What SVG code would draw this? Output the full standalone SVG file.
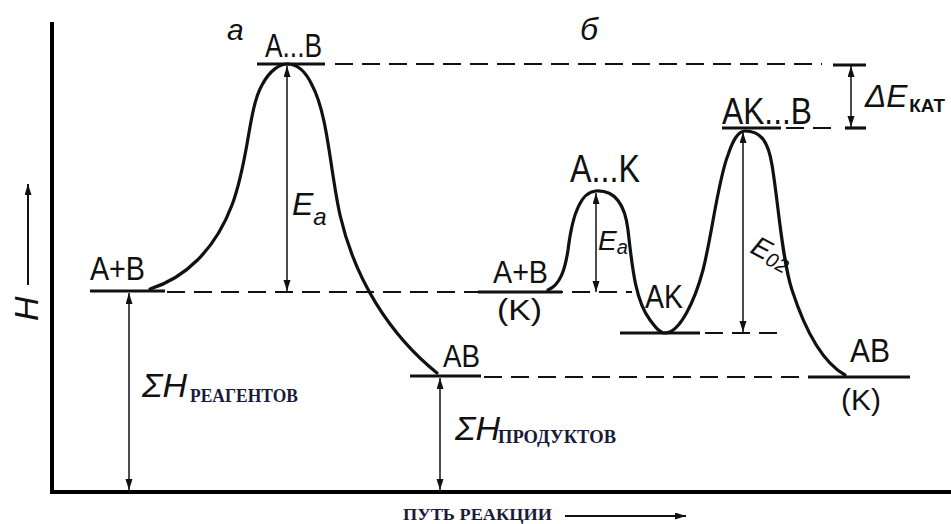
<svg xmlns="http://www.w3.org/2000/svg" width="951" height="524" viewBox="0 0 951 524">
<style>
.ax{stroke:#000;stroke-width:4;fill:none}
.crv{stroke:#111;stroke-width:3.2;fill:none;stroke-linecap:round}
.lvl{stroke:#111;stroke-width:3.2;fill:none}
.dash{stroke:#111;stroke-width:2;fill:none;stroke-dasharray:18 9}
.arr{stroke:#111;stroke-width:1.5;fill:none;marker-start:url(#ah);marker-end:url(#ah)}
.lbl{font-family:"Liberation Sans",Arial,sans-serif;fill:#111}
.it{font-family:"Liberation Sans",Arial,sans-serif;font-style:italic;fill:#111}
.ser{font-family:"Liberation Serif","Times New Roman",serif;font-weight:bold;fill:#1a1a3a}
</style>
<defs>
<marker id="ah" markerUnits="userSpaceOnUse" markerWidth="12" markerHeight="8" refX="11" refY="3.5" orient="auto-start-reverse">
<path d="M0,0 L11,3.5 L0,7 z" fill="#111"/>
</marker>
</defs>
<rect width="951" height="524" fill="#fff"/>
<g id="axes">
<line class="ax" x1="52" y1="22" x2="52" y2="493"/>
<line class="ax" x1="50" y1="492" x2="951" y2="492"/>
<line x1="28" y1="285" x2="28" y2="184" stroke="#111" stroke-width="2" marker-end="url(#ah)"/>
<text class="it" font-size="34" transform="translate(38,321) rotate(-90)">H</text>
<text class="ser" x="403" y="520" font-size="17" textLength="149" lengthAdjust="spacingAndGlyphs">ПУТЬ РЕАКЦИИ</text>
<line x1="565" y1="516" x2="686" y2="516" stroke="#111" stroke-width="2" marker-end="url(#ah)"/>
</g>
<g id="levels">
<line class="lvl" x1="90" y1="291" x2="165" y2="291"/>
<line class="dash" x1="167" y1="292" x2="632" y2="292"/>
<line class="lvl" x1="257" y1="64" x2="325" y2="64"/>
<line class="dash" x1="335" y1="64" x2="822" y2="64"/>
<line class="lvl" x1="833" y1="65" x2="866" y2="65"/>
<line class="lvl" x1="410" y1="376" x2="481" y2="376"/>
<line class="dash" x1="484" y1="377" x2="808" y2="377"/>
<line class="lvl" x1="808" y1="377" x2="910" y2="377"/>
<line class="lvl" x1="478" y1="292" x2="562" y2="292"/>
<line class="lvl" x1="620" y1="333" x2="700" y2="333"/>
<line class="dash" x1="705" y1="333" x2="782" y2="333"/>
<line class="lvl" x1="722" y1="128" x2="781" y2="128"/>
<line class="dash" x1="786" y1="128" x2="836" y2="128"/>
<line class="lvl" x1="845" y1="128" x2="866" y2="128"/>
</g>
<g id="connectors">
<path id="curve-a" class="crv" d="M150,289 C185,278 215,250 232,205 C249,160 248,110 262,85 C270,70 280,64 287,64 C296,64 305,70 312,85 C328,115 330,170 340,215 C355,280 390,335 437,373"/>
<path id="curve-b" class="crv" d="M548,290 C560,285 565,270 568,250 C571,225 578,192 596,191 C615,190 625,205 628,230 C632,265 635,300 650,320 C656,328 660,333 665,333 C680,333 695,300 703,270 C712,235 718,180 728,155 C733,140 738,131 745,131 C760,131 768,140 772,165 C778,200 782,260 792,290 C805,330 822,362 845,375"/>
<line class="arr" x1="287" y1="66" x2="287" y2="291"/>
<line class="arr" x1="129" y1="293" x2="129" y2="490"/>
<line class="arr" x1="440" y1="378" x2="440" y2="490"/>
<line class="arr" x1="596" y1="193" x2="596" y2="292"/>
<line class="arr" x1="743" y1="132" x2="743" y2="332"/>
<line class="arr" x1="851" y1="66" x2="851" y2="127"/>
</g>
<g id="node-a-label"><text class="it" x="227" y="40" font-size="30">а</text></g>
<g id="node-b-label"><text class="it" x="580" y="40" font-size="32">б</text></g>
<g id="node-AB-peak"><text class="lbl" x="265" y="57" font-size="34" textLength="57" lengthAdjust="spacingAndGlyphs">A...B</text></g>
<g id="node-A+B"><text class="lbl" x="90" y="280" font-size="34" textLength="55" lengthAdjust="spacingAndGlyphs">A+B</text></g>
<g id="node-AB-a"><text class="lbl" x="443" y="367" font-size="32" textLength="37" lengthAdjust="spacingAndGlyphs">AB</text></g>
<g id="node-Ea"><text class="it" x="292" y="215" font-size="32">E<tspan font-size="24" dy="10">a</tspan></text></g>
<g id="node-sumH-reag">
<text class="it" x="142" y="397" font-size="34">ΣH</text>
<text class="ser" x="190" y="402" font-size="19" font-weight="normal" textLength="108" lengthAdjust="spacingAndGlyphs">РЕАГЕНТОВ</text>
</g>
<g id="node-sumH-prod">
<text class="it" x="455" y="440" font-size="34">ΣH</text>
<text class="ser" x="498" y="443" font-size="19" font-weight="normal" textLength="118" lengthAdjust="spacingAndGlyphs">ПРОДУКТОВ</text>
</g>
<g id="node-AK-peak"><text class="lbl" x="570" y="182" font-size="38" textLength="70" lengthAdjust="spacingAndGlyphs">A...K</text></g>
<g id="node-A+B-K">
<text class="lbl" x="493" y="283" font-size="32" textLength="55" lengthAdjust="spacingAndGlyphs">A+B</text>
<text class="lbl" x="497" y="320" font-size="29" textLength="45" lengthAdjust="spacingAndGlyphs">(K)</text>
</g>
<g id="node-Ea-b"><text class="it" x="598" y="250" font-size="28">E<tspan font-size="20" dy="4">a</tspan></text></g>
<g id="node-AK"><text class="lbl" x="645" y="308" font-size="34" textLength="38" lengthAdjust="spacingAndGlyphs">AK</text></g>
<g id="node-AKB-peak"><text class="lbl" x="722" y="124" font-size="36" textLength="90" lengthAdjust="spacingAndGlyphs">AK...B</text></g>
<g id="node-E02"><text class="it" font-size="28" transform="translate(749,252) rotate(28)">E<tspan font-size="20" dy="3">02</tspan></text></g>
<g id="node-AB-b">
<text class="lbl" x="850" y="362" font-size="34" textLength="40" lengthAdjust="spacingAndGlyphs">AB</text>
<text class="lbl" x="841" y="410" font-size="30" textLength="40" lengthAdjust="spacingAndGlyphs">(K)</text>
</g>
<g id="node-dEkat">
<text class="it" x="865" y="107" font-size="32" textLength="80" lengthAdjust="spacingAndGlyphs">ΔE<tspan font-style="normal" font-weight="bold" font-size="19" dx="2" dy="5">КАТ</tspan></text>
</g>
</svg>
